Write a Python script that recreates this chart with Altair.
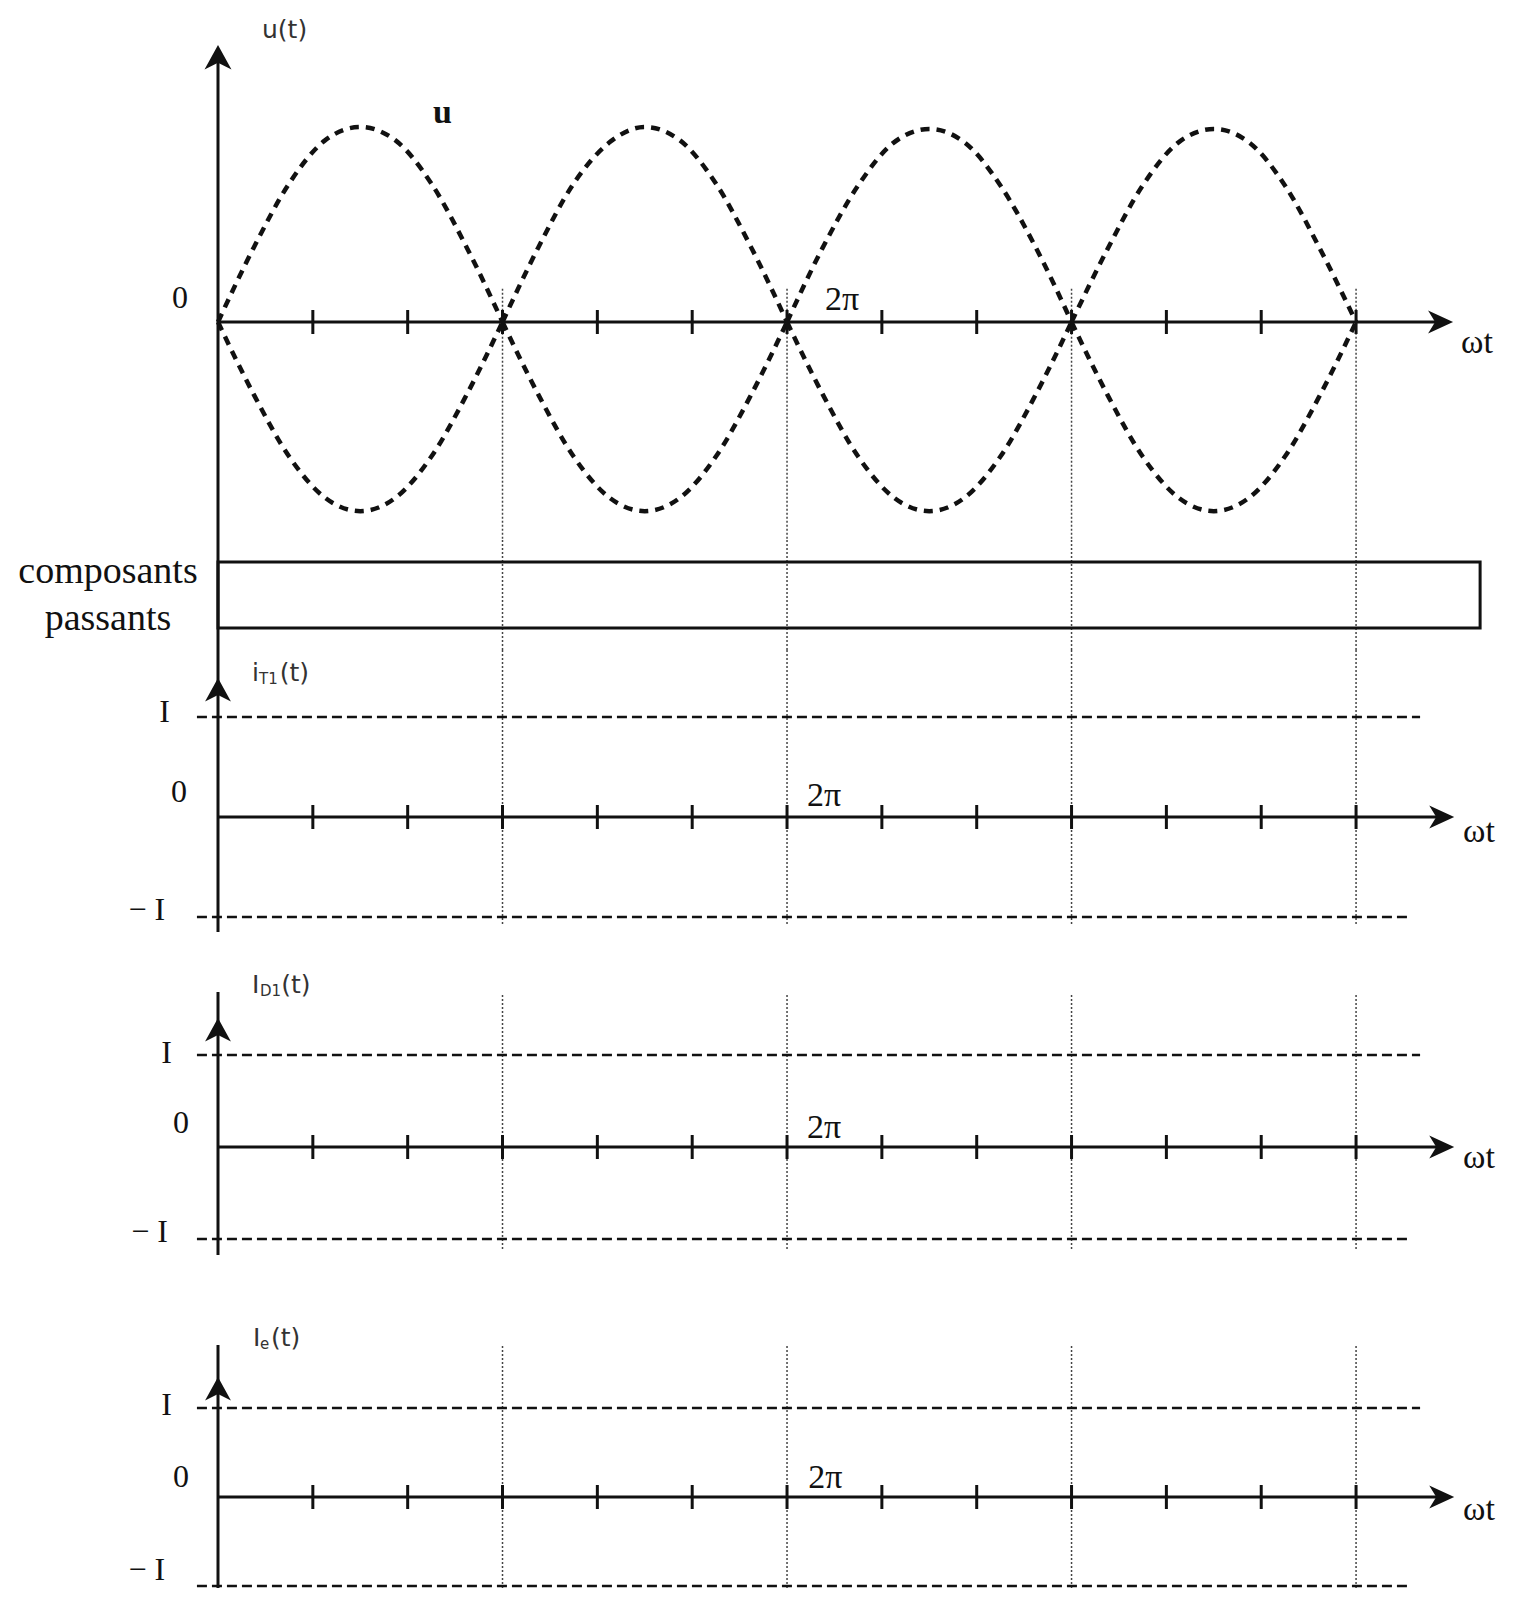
import altair as alt
import pandas as pd

INK = "#111111"
SERIF = "Liberation Serif"
SANS = "DejaVu Sans"

# ---------------- data (ωt in units of π) ----------------
TICKS = [1/3, 2/3, 1, 4/3, 5/3, 2, 7/3, 8/3, 3, 10/3, 11/3, 4]
PERIOD_LINES = [1, 2, 3, 4]
HUMP_STEPS = [0, 1/8, 2/8, 3/8, 4/8, 5/8, 6/8, 7/8, 1]
U_UPPER = [
    [0.00, 0.38, 0.71, 0.93, 1.00, 0.93, 0.71, 0.38, 0.00],
    [0.00, 0.38, 0.71, 0.92, 1.00, 0.93, 0.71, 0.38, 0.00],
    [0.00, 0.38, 0.70, 0.92, 0.99, 0.92, 0.70, 0.38, 0.00],
    [0.00, 0.37, 0.70, 0.92, 0.99, 0.92, 0.70, 0.37, 0.00],
]
U_LOWER = [
    [0.00, -0.37, -0.69, -0.90, -0.97, -0.90, -0.69, -0.37, 0.00],
    [0.00, -0.37, -0.69, -0.90, -0.97, -0.90, -0.69, -0.37, 0.00],
    [0.00, -0.37, -0.69, -0.90, -0.97, -0.90, -0.69, -0.37, 0.00],
    [0.00, -0.37, -0.69, -0.90, -0.97, -0.90, -0.69, -0.37, 0.00],
]
CURRENT_LEVELS = [1, -1]          # +I and -I
LEVEL_END = [4.225, 4.18]         # where the dashed ±I guides stop
AXIS_END = 4.345                  # ωt arrow tip
BOX_END = 4.436                   # right side of the "composants passants" box

W = 1498
X_DOM = [-0.7381, 4.527]

UP_ARROW = "M0,0 L0.55,1 L0,0.72 L-0.55,1 Z"
RIGHT_ARROW = "M0,0 L-1,-0.46 L-0.72,0 L-1,0.46 Z"


def X(field="x"):
    return alt.X(f"{field}:Q", scale=alt.Scale(domain=X_DOM, nice=False, zero=False), axis=None)


def Y(dom, field="y"):
    return alt.Y(f"{field}:Q", scale=alt.Scale(domain=dom, nice=False, zero=False), axis=None)


def vrules(xs, y1, y2, dom, **style):
    df = pd.DataFrame({"x": xs, "y": [y1] * len(xs), "y2": [y2] * len(xs)})
    return alt.Chart(df).mark_rule(**style).encode(x=X(), y=Y(dom), y2="y2:Q")


def hrules(x1s, x2s, ys, dom, **style):
    df = pd.DataFrame({"x": x1s, "x2": x2s, "y": ys})
    return alt.Chart(df).mark_rule(**style).encode(x=X(), x2="x2:Q", y=Y(dom))


def arrow(x, y, shape, dom, size=2209):
    df = pd.DataFrame({"x": [x], "y": [y]})
    return alt.Chart(df).mark_point(shape=shape, size=size, filled=True, opacity=1,
                                    color=INK).encode(x=X(), y=Y(dom))


def ticks(dom):
    df = pd.DataFrame({"x": TICKS, "y": [0] * len(TICKS)})
    return alt.Chart(df).mark_tick(orient="vertical", size=24, thickness=3, opacity=1,
                                   color=INK).encode(x=X(), y=Y(dom))


def texts(rows, dom, **style):
    df = pd.DataFrame(rows, columns=["x", "y", "t"])
    return alt.Chart(df).mark_text(baseline="alphabetic", **style).encode(
        x=X(), y=Y(dom), text="t:N")


DOT = dict(color="#444444", strokeWidth=1.5, strokeDash=[2, 2])
AX = dict(color=INK, strokeWidth=3)
LEVEL = dict(color=INK, strokeWidth=2.5, strokeDash=[10, 5])


def current_panel(dom, h, axis_top, axis_bottom, arrow_tip, line_top, line_bottom,
                  name_parts, lbl):
    layers = [
        vrules(PERIOD_LINES, line_top, line_bottom, dom, **DOT),
        hrules([-0.074, -0.074], LEVEL_END, CURRENT_LEVELS, dom, **LEVEL),
        vrules([0], axis_top, axis_bottom, dom, **AX),
        hrules([0], [AXIS_END - 0.02], [0], dom, **AX),
        ticks(dom),
        arrow(0, arrow_tip, UP_ARROW, dom),
        arrow(AXIS_END, 0, RIGHT_ARROW, dom, size=2500),
    ]
    main, sub = name_parts
    layers.append(texts(main, dom, font=SANS, fontSize=25, color="#333333", align="left"))
    layers.append(texts(sub, dom, font=SANS, fontSize=15, color="#333333", align="left"))
    layers.append(texts(lbl["right"], dom, font=SERIF, fontSize=32, color=INK, align="right"))
    layers.append(texts(lbl["center"], dom, font=SERIF, fontSize=32, color=INK, align="center"))
    layers.append(texts(lbl["left"], dom, font=SERIF, fontSize=34, color=INK, align="left"))
    return alt.layer(*layers).properties(width=W, height=h)


# ---------------- panel 1 : u(t) ----------------
P1_DOM = [-1.1179, 1.6103]
rows = []
for k in range(4):
    for j, s in enumerate(HUMP_STEPS):
        rows.append({"x": k + s, "y": U_UPPER[k][j], "seg": f"up{k}"})
        rows.append({"x": k + s, "y": U_LOWER[k][j], "seg": f"dn{k}"})
curve_df = pd.DataFrame(rows)

p1 = alt.layer(
    vrules(PERIOD_LINES, 0.17, P1_DOM[0], P1_DOM, **DOT),
    alt.Chart(curve_df).mark_line(interpolate="monotone", strokeDash=[9, 7], strokeWidth=4.5,
                                  color=INK).encode(x=X(), y=Y(P1_DOM), detail="seg:N"),
    vrules([0], P1_DOM[0], 1.40, P1_DOM, **AX),
    hrules([0], [AXIS_END - 0.02], [0], P1_DOM, **AX),
    ticks(P1_DOM),
    arrow(0, 1.4205, UP_ARROW, P1_DOM, size=2401),
    arrow(4.341, 0, RIGHT_ARROW, P1_DOM, size=2500),
    texts([(0.1547, 1.456, "u(t)")], P1_DOM, font=SANS, fontSize=25, color="#333333", align="left"),
    texts([(-0.134, 0.0718, "0")], P1_DOM, font=SERIF, fontSize=32, color=INK, align="center"),
    texts([(0.7557, 1.0205, "u")], P1_DOM, font=SERIF, fontSize=34, fontWeight="bold", color=INK, align="left"),
    texts([(2.1336, 0.0615, "2π"), (4.369, -0.159, "ωt")], P1_DOM, font=SERIF, fontSize=34,
          color=INK, align="left"),
).properties(width=W, height=532)

# ---------------- panel 2 : conducting components ----------------
P2_DOM = [-0.3333, 1.3333]
p2 = alt.layer(
    vrules(PERIOD_LINES, P2_DOM[0], P2_DOM[1], P2_DOM, **DOT),
    vrules([0], P2_DOM[0], P2_DOM[1], P2_DOM, **AX),
    alt.Chart(pd.DataFrame({"x": [0], "x2": [BOX_END], "y": [0], "y2": [1]})).mark_rect(
        fillOpacity=0, stroke=INK, strokeWidth=3).encode(x=X(), x2="x2:Q", y=Y(P2_DOM), y2="y2:Q"),
    texts([(-0.3866, 0.6818, "composants"), (-0.3866, -0.0303, "passants")], P2_DOM,
          font=SERIF, fontSize=38, color=INK, align="center"),
).properties(width=W, height=110)

# ---------------- panel 3 : iT1(t) ----------------
P3_DOM = [-1.43, 1.67]
p3 = current_panel(
    P3_DOM, 310, P3_DOM[1], -1.15, 1.39, P3_DOM[1], -1.07,
    ([(0.1195, 1.36, "i"), (0.217, 1.36, "(t)")], [(0.144, 1.33, "T1")]),
    {"right": [(-0.1687, 0.95, "I"), (-0.186, -1.03, "− I")],
     "center": [(-0.137, 0.15, "0")],
     "left": [(2.07, 0.11, "2π"), (4.376, -0.25, "ωt")]},
)

# ---------------- panel 4 : ID1(t) ----------------
P4_DOM = [-1.663, 2.0326]
p4 = current_panel(
    P4_DOM, 340, 1.685, -1.174, 1.402, 1.652, -1.12,
    ([(0.1195, 1.674, "I"), (0.222, 1.674, "(t)")], [(0.1476, 1.641, "D1")]),
    {"right": [(-0.1617, 0.913, "I"), (-0.176, -1.033, "− I")],
     "center": [(-0.13, 0.152, "0")],
     "left": [(2.07, 0.098, "2π"), (4.376, -0.228, "ωt")]},
)

# ---------------- panel 5 : Ie(t) ----------------
P5_DOM = [-1.0225, 2.2135]
p5 = current_panel(
    P5_DOM, 288, 1.708, P5_DOM[0], 1.348, 1.697, P5_DOM[0],
    ([(0.123, 1.697, "I"), (0.186, 1.697, "(t)")], [(0.1476, 1.663, "e")]),
    {"right": [(-0.1617, 0.921, "I"), (-0.186, -0.93, "− I")],
     "center": [(-0.13, 0.112, "0")],
     "left": [(2.075, 0.101, "2π"), (4.376, -0.258, "ωt")]},
)

chart = (
    alt.vconcat(p1, p2, p3, p4, p5, spacing=0, bounds="flush")
    .resolve_scale(x="independent", y="independent")
    .properties(padding=0, background="white")
    .configure_view(stroke=None)
)

chart.save("out.html", embed_options={"renderer": "svg", "actions": False})
